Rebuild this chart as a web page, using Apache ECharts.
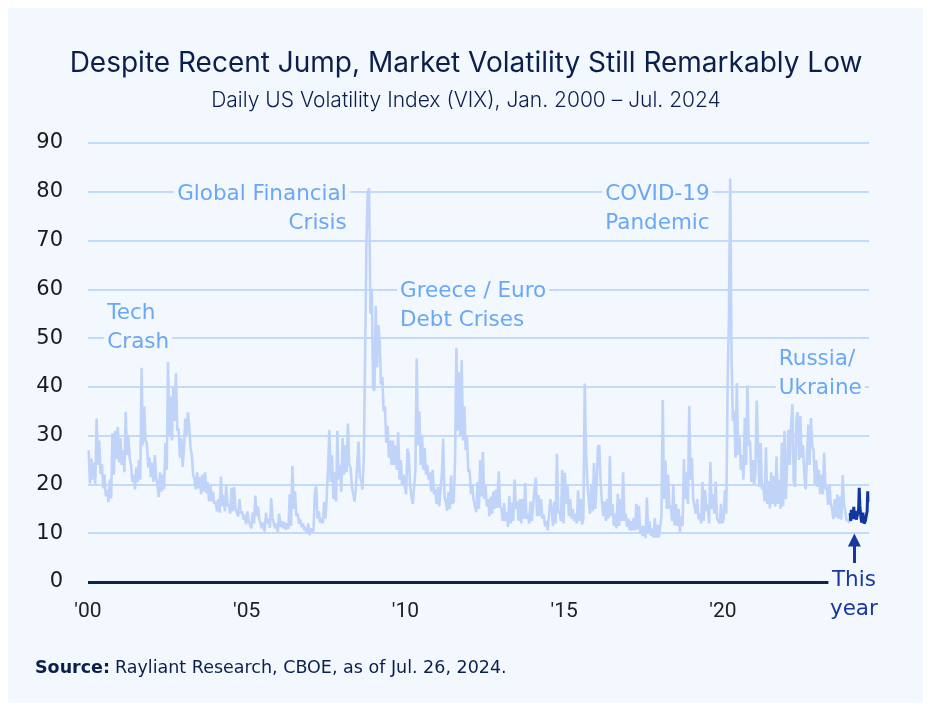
<!DOCTYPE html>
<html>
<head>
<meta charset="utf-8">
<script src="https://cdn.jsdelivr.net/npm/echarts@6/dist/echarts.min.js"></script>
<style>
  html, body { margin: 0; padding: 0; background: #ffffff; }
  #panel { position: absolute; left: 8px; top: 8px; width: 915px; height: 695px; background: #f3f8fe; }
  #chart { position: absolute; left: 0; top: 0; width: 932px; height: 707px; }
</style>
</head>
<body>
<div id="panel"></div>
<div id="chart"></div>
<script>
// Semi-monthly readings (two per month, Jan..Dec) of the daily VIX band
const vix2000 = [27.0,20.2,25.3,21.0,24.5,20.1,33.5,24.0,29.0,22.1,24.2,19.2,22.0,17.6,18.9,16.4,21.0,17.1,30.5,22.0,31.0,25.2,31.8,24.5];
const vix2001 = [29.5,24.0,27.0,22.5,34.9,26.0,30.0,25.5,24.0,20.5,22.0,19.0,23.5,20.5,25.0,21.0,43.9,28.0,36.0,29.0,28.5,23.5,25.5,21.5];
const vix2002 = [24.5,20.5,26.0,21.5,20.0,17.4,22.5,18.5,22.0,19.0,28.5,23.0,45.1,30.0,38.0,29.0,40.0,33.0,42.8,31.0,31.5,25.5,29.5,23.6];
const vix2003 = [27.0,33.5,30.0,34.8,32.0,27.5,26.0,22.0,21.0,19.0,22.5,19.2,21.5,18.0,22.0,18.5,22.5,18.2,20.5,16.5,20.0,16.5,18.5,16.0];
const vix2004 = [16.5,14.5,17.0,14.2,21.6,15.5,17.8,14.5,19.8,15.5,16.0,14.0,19.3,14.5,19.5,15.0,15.0,13.4,17.0,14.0,14.5,12.8,13.8,11.8];
const vix2005 = [14.5,12.5,12.8,11.0,14.3,12.0,17.7,13.5,15.5,12.8,13.0,11.0,12.2,10.3,14.2,12.0,13.0,11.1,17.2,13.0,13.0,11.0,12.0,10.2];
const vix2006 = [14.0,11.3,12.5,11.0,12.3,10.7,12.0,10.9,18.0,11.5,23.8,15.0,18.6,13.5,14.0,12.0,12.8,11.2,12.0,10.6,11.3,9.9,12.0,9.6];
const vix2007 = [11.0,10.2,10.7,18.3,19.6,13.0,14.5,12.2,13.0,12.0,16.4,13.0,17.5,23.5,31.1,20.5,26.0,17.0,22.5,16.5,31.0,21.0,24.0,18.5];
const vix2008 = [29.5,22.0,28.0,22.5,32.5,24.0,23.5,19.5,18.0,16.5,19.5,24.0,28.8,21.5,21.0,18.9,25.5,46.7,69.9,80.0,80.7,55.0,60.0,40.0];
const vix2009 = [39.2,56.6,44.0,52.7,49.7,40.5,42.0,35.0,36.0,28.5,32.0,25.5,29.0,24.0,29.0,24.0,28.0,23.0,30.7,21.0,25.0,20.0,22.0,19.5];
const vix2010 = [18.0,27.3,26.0,20.0,17.5,16.0,15.6,22.8,45.8,28.0,35.0,24.0,30.0,23.0,27.5,22.0,24.0,21.0,22.5,18.5,23.0,18.0,19.0,16.0];
const vix2011 = [19.5,15.5,15.5,22.0,29.4,17.5,16.5,14.6,18.5,15.0,21.8,16.0,16.5,25.2,48.0,31.0,43.0,30.0,45.5,29.0,36.0,27.0,30.0,22.5];
const vix2012 = [23.0,18.0,20.0,16.8,17.0,14.3,20.5,15.0,25.0,17.5,26.7,17.0,20.0,15.5,17.0,13.5,17.5,14.0,18.6,15.0,19.0,15.2,22.7,15.5];
const vix2013 = [15.0,12.5,16.2,12.5,14.4,11.3,17.6,12.0,16.3,12.5,21.0,15.0,16.5,12.5,17.0,12.0,17.0,13.0,20.3,13.0,14.0,12.0,16.5,12.5];
const vix2014 = [12.5,18.9,21.4,13.5,17.8,13.5,17.0,13.0,13.8,11.4,12.5,10.6,10.3,17.0,15.0,11.5,16.5,12.0,26.3,14.0,14.5,12.5,23.0,12.0];
const vix2015 = [22.4,16.0,20.0,13.5,17.0,13.0,15.0,12.5,14.0,12.0,18.8,12.5,17.0,11.8,13.0,40.7,27.0,20.0,20.0,14.0,20.0,14.5,24.4,15.0];
const vix2016 = [20.0,27.6,28.1,20.5,16.5,13.5,16.5,12.5,17.0,13.0,25.8,13.5,16.0,11.5,14.0,11.0,18.1,11.5,17.0,12.5,22.5,12.5,14.0,11.3];
const vix2017 = [13.0,10.6,12.5,10.6,13.1,10.6,16.0,10.8,15.6,9.8,11.5,9.4,11.5,9.0,17.3,10.0,12.5,9.5,11.0,9.1,13.1,9.1,11.7,9.1];
const vix2018 = [9.2,13.5,37.3,17.0,24.9,15.0,22.0,15.0,15.8,12.5,20.0,11.6,16.0,11.5,15.0,10.2,13.5,11.5,25.2,17.0,22.5,16.0,36.1,21.0];
const vix2019 = [25.5,17.0,17.0,14.0,17.0,12.9,14.0,12.0,20.5,12.5,18.9,14.5,16.0,12.0,24.6,15.0,18.0,14.0,20.6,13.0,13.0,12.0,16.0,12.0];
const vix2020 = [13.0,18.8,14.0,40.1,54.5,82.7,46.0,33.0,35.0,25.5,40.8,26.0,30.0,23.0,26.0,21.0,33.6,24.0,40.3,28.0,29.0,20.5,25.0,20.0];
const vix2021 = [22.0,37.2,28.0,19.5,28.5,19.0,20.0,16.5,27.6,16.0,20.7,15.1,22.5,16.0,21.7,15.5,25.7,16.0,21.0,15.0,28.6,15.5,31.0,17.0];
const vix2022 = [17.0,31.2,24.0,32.0,36.5,20.5,19.5,33.4,34.8,25.0,34.0,25.5,28.0,22.0,19.0,25.6,32.3,24.0,33.6,28.0,27.0,20.0,25.0,19.5];
const vix2023 = [23.0,18.0,22.0,18.0,26.5,19.0,19.5,15.8,20.0,16.0,15.0,12.9,17.0,13.3,17.9,13.0,17.5,12.8,21.9,16.0,16.0,12.5,13.0,12.1];

// This year: weekly readings
const dates2024 = ['2024-01-03','2024-01-10','2024-01-17','2024-01-24','2024-01-31','2024-02-07','2024-02-14','2024-02-21','2024-02-28',
  '2024-03-06','2024-03-13','2024-03-20','2024-03-27','2024-04-03','2024-04-10','2024-04-17','2024-04-24','2024-05-01',
  '2024-05-08','2024-05-15','2024-05-22','2024-05-29','2024-06-05','2024-06-12','2024-06-19','2024-06-26',
  '2024-07-03','2024-07-10','2024-07-17','2024-07-24','2024-07-26'];
const vix2024 = [14.1,12.5,14.8,13.2,14.4,12.9,15.4,13.8,13.4,14.5,12.8,13.0,12.8,14.3,15.0,19.3,15.7,15.4,
  13.0,12.2,11.9,14.2,12.6,12.0,12.3,12.5,12.1,12.5,14.5,18.6,16.4];

const yearTicks = ["'00","'05","'10","'15","'20"];
const history = [vix2000,vix2001,vix2002,vix2003,vix2004,vix2005,vix2006,vix2007,vix2008,vix2009,vix2010,vix2011,
  vix2012,vix2013,vix2014,vix2015,vix2016,vix2017,vix2018,vix2019,vix2020,vix2021,vix2022,vix2023];

const histData = [];
history.forEach((arr, k) => {
  arr.forEach((v, i) => histData.push([2000 + k + (i + 0.5) / arr.length, v]));
});
const dayOfYear = s => (Date.parse(s) - Date.parse('2024-01-01')) / 86400000;
const thisYearData = dates2024.map((d, i) => [2024 + dayOfYear(d) / 366, vix2024[i]]);

const PANEL = '#f3f8fe';
const ANNO = '#6aa7f5';
const AFONT = 'DejaVu Sans';
function anno(text, x, y, align, color, offset) {
  const lines = text.split('\n').map(t => '{a|' + t + '}').join('\n');
  return {
    coord: [x, y], symbol: 'circle', symbolSize: 1, itemStyle: { color: 'rgba(0,0,0,0)' },
    label: {
      show: true, position: [0, 0], align: align, verticalAlign: 'middle', lineHeight: 29,
      offset: offset || [0, 0],
      formatter: lines,
      rich: { a: { color: color || ANNO, fontSize: 21.5, fontFamily: AFONT, lineHeight: 29,
                   backgroundColor: PANEL, padding: [0, 3] } }
    }
  };
}

const chart = echarts.init(document.getElementById('chart'), null, { renderer: 'canvas' });
chart.setOption({
  backgroundColor: 'transparent',
  animation: false,
  title: [
    { text: 'Despite Recent Jump, Market Volatility Still Remarkably Low', left: 'center', top: 45,
      textStyle: { fontFamily: 'Inter', fontSize: 28, fontWeight: 400, color: '#0b1f4d' } },
    { text: 'Daily US Volatility Index (VIX), Jan. 2000 \u2013 Jul. 2024', left: 'center', top: 85,
      textStyle: { fontFamily: 'Inter', fontSize: 21, fontWeight: 300, color: '#0b1f4d' } },
    { text: '{b|Source:} {r|Rayliant Research, CBOE, as of Jul. 26, 2024.}', left: 30, top: 654,
      textStyle: { rich: {
        b: { fontFamily: 'DejaVu Sans', fontSize: 17.5, fontWeight: 'bold', color: '#0b1f4d' },
        r: { fontFamily: 'DejaVu Sans', fontSize: 17.5, fontWeight: 400, color: '#0b1f4d' } } } }
  ],
  grid: { left: 88, right: 63, top: 143, bottom: 125 },
  xAxis: {
    type: 'value', min: 2000, max: 2024.6, interval: 5,
    axisLine: { show: false }, axisTick: { show: false }, splitLine: { show: false },
    axisLabel: { showMaxLabel: false, margin: 19, fontFamily: 'Roboto', fontSize: 21, color: '#222',
      formatter: v => yearTicks[Math.round((v - 2000) / 5)] || '' }
  },
  yAxis: {
    type: 'value', min: 0, max: 90, interval: 10,
    axisLine: { show: false }, axisTick: { show: false },
    splitLine: { lineStyle: { color: '#c2dbf8', width: 2 } },
    axisLabel: { margin: 25, fontFamily: 'DejaVu Sans', fontSize: 21, color: '#1a1a1a' }
  },
  series: [
    {
      type: 'line', data: histData, showSymbol: false, symbol: 'none',
      lineStyle: { color: '#c0d4fa', width: 2.6 }, z: 3,
      markLine: {
        silent: true, symbol: 'none', label: { show: false },
        lineStyle: { color: '#0b2454', width: 3, type: 'solid' },
        data: [[{ coord: [2000, 0] }, { coord: [2023.32, 0] }]]
      },
      markPoint: {
        silent: true,
        data: [
          anno('Tech\nCrash', 2000.53, 51.9, 'left'),
          anno('Global Financial\nCrisis', 2008.26, 76.3, 'right'),
          anno('Greece / Euro\nDebt Crises', 2009.75, 56.4, 'left'),
          anno('COVID-19\nPandemic', 2019.69, 76.3, 'right'),
          anno('Russia/\nUkraine', 2021.68, 42.6, 'left')
        ]
      }
    },
    {
      type: 'line', data: thisYearData, showSymbol: false, symbol: 'none',
      lineStyle: { color: '#1136a0', width: 3 }, z: 4,
      markLine: {
        silent: true, symbol: ['none', 'triangle'], symbolSize: 13, label: { show: false },
        lineStyle: { color: '#1738a0', width: 3, type: 'solid' },
        data: [[{ coord: [2024.14, 3.9] }, { coord: [2024.14, 8.6] }]]
      },
      markPoint: {
        silent: true,
        data: [ anno('This\nyear', 2024.14, 0, 'center', '#1738a0', [0, 13.5]) ]
      }
    }
  ]
});
</script>
</body>
</html>
